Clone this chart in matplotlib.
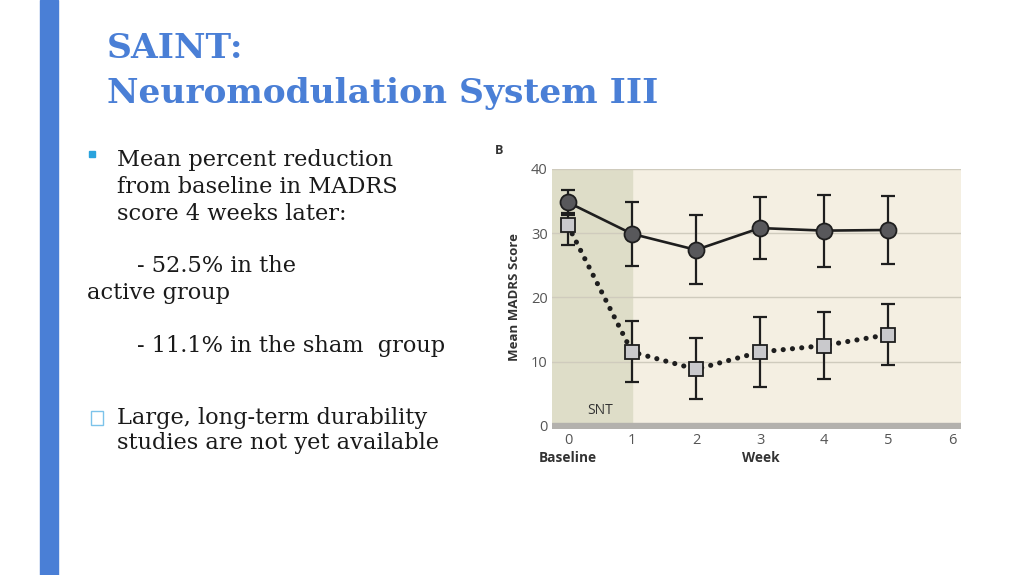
import matplotlib.pyplot as plt
from matplotlib.patches import Rectangle
import numpy as np

# MADRS scores (week 0 = baseline)
weeks = [0, 1, 2, 3, 4, 5]
active_mean = [34.8, 29.9, 27.4, 30.8, 30.4, 30.5]
active_low = [32.9, 24.9, 22.1, 26.0, 24.8, 25.2]
active_high = [36.7, 34.9, 32.8, 35.6, 35.9, 35.8]
sham_mean = [31.2, 11.5, 8.8, 11.5, 12.5, 14.2]
sham_low = [28.1, 6.75, 4.2, 6.1, 7.3, 9.5]
sham_high = [33.1, 16.3, 13.6, 17.0, 17.7, 18.9]
y_ticks = [0, 10, 20, 30, 40]
x_ticks = [0, 1, 2, 3, 4, 5, 6]

W, H = 1024, 575


def px(x, y):
    return x / W, 1 - y / H


fig = plt.figure(figsize=(10.24, 5.75), dpi=100)
fig.patch.set_facecolor('white')

# left accent bar
fig.patches.append(Rectangle(px(40, 575), 18 / W, 1, transform=fig.transFigure,
                             color='#4a7fd6', zorder=0))

title_col = '#4a7fd6'
serif = ['DejaVu Serif', 'Liberation Serif']
fig.text(*px(107, 48), "SAINT:", fontsize=24.8, fontweight='bold', color=title_col,
         family=serif, va='center', ha='left')
fig.text(*px(107, 93), "Neuromodulation System III", fontsize=24.8,
         fontweight='bold', color=title_col, family=serif, va='center', ha='left')

body = dict(fontsize=16.2, color='#1a1a1a', family=serif, va='center', ha='left')
fig.text(*px(117, 160), "Mean percent reduction", **body)
fig.text(*px(117, 187), "from baseline in MADRS", **body)
fig.text(*px(117, 214), "score 4 weeks later:", **body)
fig.text(*px(137, 266), "- 52.5% in the", **body)
fig.text(*px(87, 293), "active group", **body)
fig.text(*px(137, 346), "- 11.1% in the sham  group", **body)
fig.text(*px(117, 418), "Large, long-term durability", **body)
fig.text(*px(117, 443), "studies are not yet available", **body)

# bullets
fig.patches.append(Rectangle(px(89, 157), 6 / W, 6 / H, transform=fig.transFigure,
                             color='#29a3dd'))
fig.patches.append(Rectangle(px(91, 425), 12 / W, 14 / H, transform=fig.transFigure,
                             fill=False, edgecolor='#7cc3ea', lw=1))

# chart
ax = fig.add_axes([552 / W, 1 - 429 / H, (961 - 552) / W, (429 - 169) / H])
ax.set_xlim(-0.25, 6.14)
ax.set_ylim(-0.5, 40)
ax.set_facecolor('#f4efe2')
ax.axvspan(-0.25, 1, color='#deddc8', zorder=0)
for yv in y_ticks[1:]:
    ax.axhline(yv, color='#cfcbbd', lw=1, zorder=1)
ax.axhspan(-0.5, 0.45, color='#b3b1ad', zorder=1)
for s in ax.spines.values():
    s.set_visible(False)

ax.errorbar(weeks, sham_mean,
            yerr=[np.subtract(sham_mean, sham_low), np.subtract(sham_high, sham_mean)],
            fmt='none', ecolor='#1e1e1e', elinewidth=1.6, capsize=5, capthick=1.6,
            zorder=3)
ax.plot(weeks, sham_mean, color='#1e1e1e', lw=3.7, linestyle=(0, (0.01, 1.8)),
        dash_capstyle='round', zorder=2)
ax.plot(weeks, sham_mean, linestyle='none', marker='s', markersize=10.5,
        markerfacecolor='#c9c9cc', markeredgecolor='#1e1e1e', markeredgewidth=1.3,
        zorder=4)

ax.errorbar(weeks, active_mean,
            yerr=[np.subtract(active_mean, active_low), np.subtract(active_high, active_mean)],
            fmt='none', ecolor='#1e1e1e', elinewidth=1.6, capsize=5, capthick=1.6,
            zorder=5)
ax.plot(weeks, active_mean, color='#1e1e1e', lw=1.9, marker='o', markersize=11.5,
        markerfacecolor='#58585b', markeredgecolor='#1e1e1e', markeredgewidth=1.3,
        zorder=6)

sans = 'Open Sans'
ax.set_xticks(x_ticks)
ax.set_yticks(y_ticks)
ax.tick_params(length=0, labelsize=10.5, labelcolor='#555555', pad=3)
for lab in ax.get_xticklabels() + ax.get_yticklabels():
    lab.set_family(sans)

ax.text(0.5, 2.4, "SNT", fontsize=10, family=sans, color='#333333',
        ha='center', va='center')

fig.text(*px(568, 458), "Baseline", fontsize=9.8, fontweight='bold', family=sans,
         color='#333333', ha='center', va='center')
fig.text(*px(761, 458), "Week", fontsize=9.8, fontweight='bold', family=sans,
         color='#333333', ha='center', va='center')
fig.text(*px(514, 297), "Mean MADRS Score", fontsize=9.5, fontweight='bold',
         family=sans, color='#333333', ha='center', va='center', rotation=90)
fig.text(*px(499, 150), "B", fontsize=9, fontweight='bold', family=sans,
         color='#333333', ha='center', va='center')

fig.savefig('out.png', dpi=100)
